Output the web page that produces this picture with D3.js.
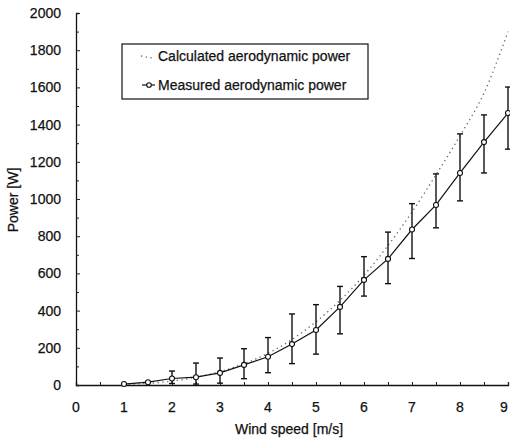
<!DOCTYPE html>
<html>
<head>
<meta charset="utf-8">
<script src="https://cdn.jsdelivr.net/npm/d3@7"></script>
<style>
    body { margin: 0; background: white; }
    text { font-family: "Liberation Sans", Arial, sans-serif; stroke: #111; stroke-width: 0.25; }
</style>
</head>
<body>
<svg id="chart" width="510" height="438"></svg>
<script>
// wind speed [m/s]
const windSpeed = [1, 1.5, 2, 2.5, 3, 3.5, 4, 4.5, 5, 5.5, 6, 6.5, 7, 7.5, 8, 8.5, 9];
// calculated aerodynamic power [W]
const calcPower = [3, 9, 21, 42, 72, 115, 170, 245, 340, 455, 590, 750, 930, 1130, 1340, 1570, 1900];
// measured aerodynamic power [W] with error bar bounds
const measPower = [5, 15, 35, 42, 65, 108, 152, 220, 296, 420, 565, 678, 836, 968, 1140, 1306, 1462];
const measUpper = [null, null, 75, 118, 145, 195, 255, 382, 432, 530, 690, 822, 975, 1135, 1350, 1452, 1602];
const measLower = [null, null, 8, 5, 10, 34, 66, 115, 166, 275, 478, 545, 680, 845, 990, 1140, 1268];
const xTicks = [0, 1, 2, 3, 4, 5, 6, 7, 8, 9];
const yTicks = [0, 200, 400, 600, 800, 1000, 1200, 1400, 1600, 1800, 2000];
const legendLabels = ["Calculated aerodynamic power", "Measured aerodynamic power"];

window.addEventListener("load", main);

function main()
{
    const svg = d3.select("svg#chart");
    const left = 76, right = 508, top = 13, bottom = 385;

    const x = d3.scaleLinear().domain([0, 9]).range([left, right]);
    const y = d3.scaleLinear().domain([0, 2000]).range([bottom, top]);

    // axes, ticks pointing inward
    const xAxis = svg.append("g").attr("transform", `translate(0,${bottom})`)
        .call(d3.axisBottom(x).tickValues(d3.range(0, 9.01, 0.5)).tickSize(-3).tickFormat(""));
    const yAxis = svg.append("g").attr("transform", `translate(${left},0)`)
        .call(d3.axisLeft(y).tickValues(d3.range(0, 2001, 100)).tickSize(-3).tickFormat(""));
    [xAxis, yAxis].forEach(a => {
        a.select(".domain").attr("stroke", "#111").attr("stroke-width", 1.3);
        a.selectAll(".tick line").attr("stroke", "#222").attr("stroke-width", 1);
    });
    yAxis.selectAll(".tick line").filter(d => d % 200 === 0).attr("x2", 4);

    svg.selectAll("text.xTick").data(xTicks).join("text")
        .attr("class", "xTick")
        .attr("x", d => Math.min(x(d), 504))
        .attr("y", 412)
        .attr("text-anchor", "middle")
        .attr("font-size", 14)
        .attr("fill", "#111")
        .text(d => d);

    svg.selectAll("text.yTick").data(yTicks).join("text")
        .attr("class", "yTick")
        .attr("x", 61)
        .attr("y", d => y(d) + 5)
        .attr("text-anchor", "end")
        .attr("font-size", 14)
        .attr("fill", "#111")
        .text(d => d);

    svg.append("text")
        .attr("x", 289).attr("y", 434)
        .attr("text-anchor", "middle").attr("font-size", 14).attr("fill", "#111")
        .text("Wind speed [m/s]");
    svg.append("text")
        .attr("transform", "translate(18,200) rotate(-90)")
        .attr("text-anchor", "middle").attr("font-size", 14).attr("fill", "#111")
        .text("Power [W]");

    // calculated power, dotted
    const calcLine = d3.line().x((d, i) => x(windSpeed[i])).y(d => y(d)).curve(d3.curveMonotoneX);
    svg.append("path").datum(calcPower)
        .attr("d", calcLine)
        .attr("fill", "none")
        .attr("stroke", "#666")
        .attr("stroke-width", 1.3)
        .attr("stroke-dasharray", "1.3,3.5");

    // error bars
    const bars = windSpeed.map((v, i) => ({ v: v, lo: measLower[i], hi: measUpper[i] })).filter(d => d.hi !== null);
    const eb = svg.selectAll("g.err").data(bars).join("g").attr("class", "err")
        .attr("stroke", "#111").attr("stroke-width", 1.4);
    eb.append("line").attr("x1", d => x(d.v)).attr("x2", d => x(d.v)).attr("y1", d => y(d.lo)).attr("y2", d => y(d.hi));
    eb.append("line").attr("x1", d => x(d.v) - 3).attr("x2", d => x(d.v) + 3).attr("y1", d => y(d.hi)).attr("y2", d => y(d.hi));
    eb.append("line").attr("x1", d => x(d.v) - 3).attr("x2", d => x(d.v) + 3).attr("y1", d => y(d.lo)).attr("y2", d => y(d.lo));

    // measured power, solid with open circles
    const measLine = d3.line().x((d, i) => x(windSpeed[i])).y(d => y(d));
    svg.append("path").datum(measPower)
        .attr("d", measLine)
        .attr("fill", "none")
        .attr("stroke", "#111")
        .attr("stroke-width", 1.2);
    svg.selectAll("circle.pt").data(measPower).join("circle")
        .attr("class", "pt")
        .attr("cx", (d, i) => x(windSpeed[i]))
        .attr("cy", d => y(d))
        .attr("r", 2.5)
        .attr("fill", "white")
        .attr("stroke", "#111")
        .attr("stroke-width", 1.1);

    // legend
    const lg = svg.append("g");
    lg.append("rect").attr("x", 122).attr("y", 44).attr("width", 246).attr("height", 55)
        .attr("fill", "white").attr("stroke", "#111").attr("stroke-width", 1.2);
    lg.append("line").attr("x1", 141).attr("x2", 152).attr("y1", 56).attr("y2", 58)
        .attr("stroke", "#666").attr("stroke-width", 1.3).attr("stroke-dasharray", "1.3,3.5");
    lg.append("line").attr("x1", 142).attr("x2", 155).attr("y1", 85).attr("y2", 85)
        .attr("stroke", "#111").attr("stroke-width", 1.2);
    lg.append("circle").attr("cx", 149).attr("cy", 85).attr("r", 2.3)
        .attr("fill", "white").attr("stroke", "#111").attr("stroke-width", 1.1);
    lg.selectAll("text.legend").data(legendLabels).join("text")
        .attr("class", "legend")
        .attr("x", 158)
        .attr("y", (d, i) => 61 + i * 29)
        .attr("font-size", 14)
        .attr("fill", "#111")
        .text(d => d);
}
</script>
</body>
</html>
